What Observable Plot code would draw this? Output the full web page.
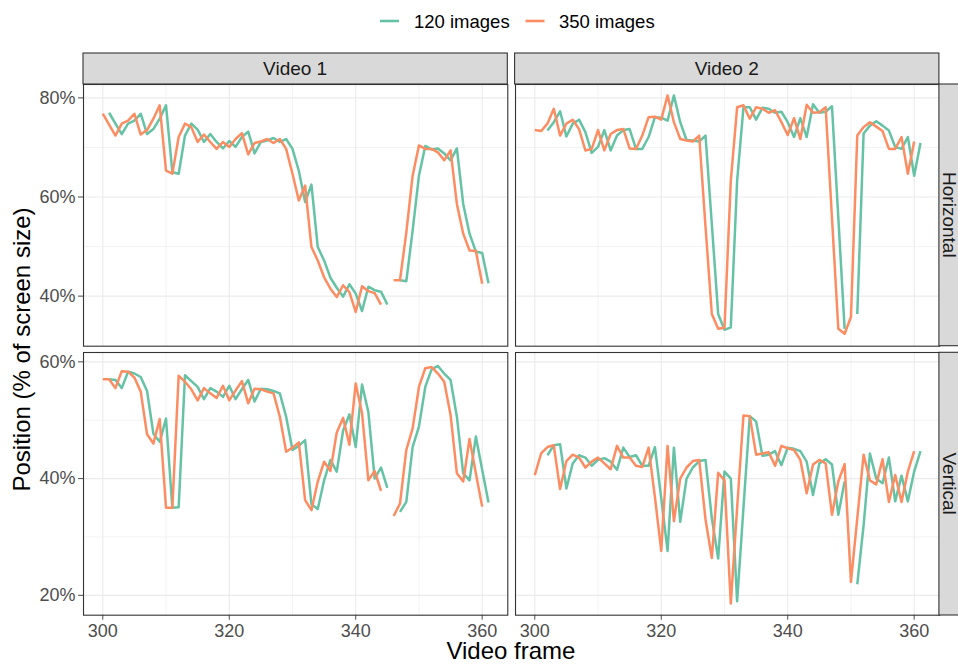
<!DOCTYPE html>
<html>
<head>
<meta charset="utf-8">
<script src="https://cdn.jsdelivr.net/npm/d3@7"></script>
<script src="https://cdn.jsdelivr.net/npm/@observablehq/plot@0.6"></script>
<style>
  body { margin: 0; background: #fff; }
  #fig { position: relative; width: 958px; height: 664px; overflow: hidden; background: #fff;
         font-family: "Liberation Sans", Arial, Helvetica, sans-serif; }
  #fig > svg { position: absolute; }
</style>
</head>
<body>
<div id="fig"></div>
<script>
// Tracked position per video frame, in % of screen size (null = frame not tracked)
const firstFrame = 300;
const videos = ["Video 1", "Video 2"];
const directions = ["Horizontal", "Vertical"];
const series = ["120 images", "350 images"];
const seriesColors = ["#66c2a5", "#fc8d62"];
const xTicks = [300, 320, 340, 360];
const xMinor = [310, 330, 350];
const yTicksHorizontal = [40, 60, 80];
const yMinorHorizontal = [50, 70];
const yTicksVertical = [20, 40, 60];
const yMinorVertical = [30, 50];

const video1Horizontal120 = [
  null, 77.0, 74.8, 72.7, 74.8, 75.4, 76.8, 72.7, 73.7, 75.8,
  78.5, 65.0, 64.7, 72.4, 74.8, 73.6, 71.1, 72.7, 71.1, 69.8,
  71.3, 70.1, 72.1, 73.2, 68.8, 71.1, 71.4, 71.9, 71.1, 71.7,
  69.7, 65.3, 59.0, 62.5, 49.9, 47.2, 43.7, 41.7, 39.9, 42.4,
  40.5, 37.0, 41.9, 41.2, 40.9, 38.3, null, 43.2, 43.0, 53.2,
  64.3, 70.3, 69.6, 69.8, 68.8, 67.4, 69.8, 58.6, 52.6, 49.0,
  48.7, 42.6
];
const video1Horizontal350 = [
  76.8, 74.6, 72.4, 74.8, 75.4, 76.8, 72.6, 73.5, 75.8, 78.5,
  65.3, 64.7, 72.1, 74.8, 74.1, 71.1, 72.6, 71.1, 69.7, 71.1,
  70.1, 71.7, 72.9, 68.6, 70.9, 71.2, 71.7, 70.9, 71.7, 69.7,
  64.7, 59.3, 62.3, 49.9, 47.2, 43.8, 41.5, 39.8, 42.2, 40.8,
  36.8, 42.0, 41.0, 40.6, 38.3, null, 43.2, 43.2, 52.8, 64.3,
  70.4, 69.7, 69.7, 69.0, 67.4, 69.4, 58.6, 52.6, 49.2, 49.1,
  42.5, null
];
const video2Horizontal120 = [
  null, null, 73.4, 75.1, 77.3, 72.2, 74.8, 75.6, 73.1, 68.9,
  70.1, 73.5, 69.4, 72.4, 73.5, 73.7, 69.7, 69.7, 72.1, 76.1,
  76.0, 75.4, 80.5, 75.1, 71.5, 71.4, 71.2, 72.4, 54.5, 36.4,
  33.2, 33.7, 63.3, 78.1, 78.1, 75.6, 78.0, 77.8, 77.0, 77.2,
  75.1, 72.1, 75.9, 72.1, 78.7, 77.0, 77.2, 78.3, 55.9, 33.4,
  null, 36.4, 72.8, 74.4, 75.3, 74.4, 73.4, 70.1, 69.7, 72.1,
  64.3, 70.9
];
const video2Horizontal350 = [
  73.5, 73.3, 74.8, 77.8, 72.4, 74.8, 75.6, 73.7, 69.4, 69.7,
  73.5, 69.4, 72.7, 73.5, 73.7, 69.8, 69.7, 72.4, 76.1, 76.2,
  75.6, 80.5, 75.1, 71.7, 71.4, 71.2, 72.4, 54.0, 36.4, 33.4,
  33.6, 63.3, 78.1, 78.5, 75.8, 78.1, 77.8, 77.0, 77.5, 75.1,
  72.5, 75.9, 71.7, 78.6, 77.0, 77.1, 78.1, 55.8, 33.4, 32.4,
  35.8, 72.4, 74.1, 75.1, 74.2, 73.3, 69.7, 69.7, 72.1, 64.7,
  71.2, null
];
const video1Vertical120 = [
  null, 57.0, 56.9, 55.5, 58.3, 58.0, 57.4, 55.0, 47.7, 46.3,
  50.3, 35.0, 35.1, 57.7, 56.7, 55.7, 53.6, 55.5, 54.9, 54.0,
  55.9, 53.6, 55.3, 56.9, 53.2, 55.4, 55.3, 55.0, 54.6, 50.6,
  44.9, 45.6, 46.6, 35.6, 34.8, 39.7, 43.2, 41.2, 48.2, 51.0,
  45.4, 56.1, 51.4, 40.0, 41.9, 38.4, null, 34.3, 36.0, 45.4,
  48.9, 55.7, 58.7, 59.3, 58.0, 56.9, 50.6, 40.9, 39.7, 47.2,
  41.5, 35.9
];
const video1Vertical350 = [
  57.0, 57.0, 55.5, 58.4, 58.3, 57.3, 54.9, 47.6, 46.0, 50.2,
  35.0, 35.0, 57.6, 56.6, 55.3, 53.4, 55.5, 54.6, 53.8, 55.9,
  53.4, 55.1, 56.7, 52.9, 55.4, 55.3, 54.9, 54.6, 50.6, 44.6,
  45.3, 46.2, 36.3, 34.6, 39.5, 42.9, 41.3, 47.9, 50.4, 45.8,
  56.3, 51.2, 39.7, 41.3, 37.9, null, 33.6, 35.7, 44.9, 48.6,
  55.7, 58.9, 59.1, 58.0, 56.6, 50.9, 40.9, 39.5, 46.8, 40.9,
  35.2, null
];
const video2Vertical120 = [
  null, null, 44.0, 45.7, 45.9, 38.3, 42.6, 44.0, 43.6, 42.2,
  43.2, 43.5, 42.9, 41.5, 45.3, 43.7, 44.0, 42.2, 42.2, 45.4,
  36.6, 27.6, 45.3, 32.6, 40.0, 41.9, 43.0, 43.2, 33.2, 26.3,
  41.2, 40.0, 19.0, 35.0, 50.7, 49.8, 43.9, 44.1, 44.7, 42.3,
  45.3, 45.1, 44.7, 42.9, 37.2, 42.6, 43.3, 42.4, 33.8, 39.5,
  null, 21.9, 32.0, 44.3, 40.0, 39.2, 43.6, 36.1, 40.5, 36.1,
  41.2, 44.7
];
const video2Vertical350 = [
  40.6, 44.3, 45.4, 45.7, 38.2, 43.0, 44.1, 43.6, 41.9, 42.9,
  43.6, 42.6, 41.6, 45.6, 43.6, 43.6, 42.2, 42.0, 45.3, 36.8,
  27.6, 45.6, 32.7, 40.0, 41.9, 43.0, 43.2, 33.0, 26.4, 41.0,
  39.7, 18.6, 35.0, 50.8, 50.7, 44.1, 44.3, 44.5, 42.2, 45.6,
  45.2, 44.9, 43.2, 37.5, 42.4, 43.2, 42.6, 33.8, 39.5, 42.5,
  22.3, 33.2, 44.1, 39.7, 39.0, 43.3, 36.0, 40.6, 36.0, 41.2,
  44.7, null
];

// panel -> one series array per sample size
const panelSeries = {
  "Video 1|Horizontal": [video1Horizontal120, video1Horizontal350],
  "Video 2|Horizontal": [video2Horizontal120, video2Horizontal350],
  "Video 1|Vertical":   [video1Vertical120,   video1Vertical350],
  "Video 2|Vertical":   [video2Vertical120,   video2Vertical350]
};

// ---- layout (pixels) ----
const FONT = '"Liberation Sans", Arial, Helvetica, sans-serif';
const colLeft = [83, 514.6];
const panelWidth = 424.3;
const rowTop = [84, 352.3];
const panelHeight = [261.7, 262.7];
const stripTop = 53;
const stripRight = 938.9;
const xDomain = [296.95, 364.05];
const yDomains = [[29.9, 82.7], [16.6, 61.6]];
const yTicks = [yTicksHorizontal, yTicksVertical];
const yMinor = [yMinorHorizontal, yMinorVertical];

const fig = document.getElementById("fig");

function rowsFor(video, direction) {
  const out = [];
  panelSeries[`${video}|${direction}`].forEach((values, s) => {
    values.forEach((v, i) => {
      out.push({frame: firstFrame + i, value: v == null ? NaN : v, series: series[s]});
    });
  });
  return out;
}

directions.forEach((direction, row) => {
  videos.forEach((video, col) => {
    const mL = col === 0 ? 83 : 3, mR = 3, mT = 3, mB = row === 1 ? 49 : 3;
    const width = mL + panelWidth + mR;
    const height = mT + panelHeight[row] + mB;
    const chart = Plot.plot({
      width, height,
      marginLeft: mL, marginRight: mR, marginTop: mT, marginBottom: mB,
      style: {fontFamily: FONT, fontSize: "18px", color: "#4d4d4d", background: "transparent", overflow: "visible"},
      x: {
        domain: xDomain,
        axis: row === 1 ? "bottom" : null,
        ticks: xTicks, tickSize: 5, tickPadding: 4, tickFormat: d => String(d), label: null
      },
      y: {
        domain: yDomains[row],
        axis: col === 0 ? "left" : null,
        ticks: yTicks[row], tickSize: 5, tickPadding: 3, tickFormat: d => d + "%", label: null
      },
      color: {domain: series, range: seriesColors},
      marks: [
        Plot.ruleX(xMinor, {stroke: "#ebebeb", strokeWidth: 0.6}),
        Plot.ruleY(yMinor[row], {stroke: "#ebebeb", strokeWidth: 0.6}),
        Plot.ruleX(xTicks, {stroke: "#ebebeb", strokeWidth: 1.1}),
        Plot.ruleY(yTicks[row], {stroke: "#ebebeb", strokeWidth: 1.1}),
        Plot.line(rowsFor(video, direction), {
          x: "frame", y: "value", stroke: "series", z: "series",
          strokeWidth: 2.5, strokeLinejoin: "round", strokeLinecap: "butt"
        }),
        Plot.frame({stroke: "#333333", strokeWidth: 1.1})
      ]
    });
    chart.style.left = (colLeft[col] - mL) + "px";
    chart.style.top = (rowTop[row] - mT) + "px";
    fig.appendChild(chart);
  });
});

// ---- strips, legend and axis titles ----
const svg = d3.select(fig).append("svg")
  .attr("width", 958).attr("height", 664)
  .style("left", "0px").style("top", "0px")
  .style("font-family", FONT);

videos.forEach((video, col) => {
  svg.append("rect")
    .attr("x", colLeft[col]).attr("y", stripTop)
    .attr("width", panelWidth).attr("height", rowTop[0] - stripTop)
    .attr("fill", "#d9d9d9").attr("stroke", "#333333").attr("stroke-width", 1.1);
  svg.append("text")
    .attr("x", colLeft[col] + panelWidth / 2).attr("y", (stripTop + rowTop[0]) / 2)
    .attr("dy", "0.36em")
    .attr("text-anchor", "middle").attr("font-size", 19).attr("fill", "#1a1a1a")
    .text(video);
});

directions.forEach((direction, row) => {
  svg.append("rect")
    .attr("x", stripRight).attr("y", rowTop[row])
    .attr("width", 30).attr("height", panelHeight[row])
    .attr("fill", "#d9d9d9").attr("stroke", "#333333").attr("stroke-width", 1.1);
  svg.append("text")
    .attr("transform", `translate(${stripRight + 11},${rowTop[row] + panelHeight[row] / 2}) rotate(90)`)
    .attr("dy", "0.36em")
    .attr("text-anchor", "middle").attr("font-size", 19).attr("fill", "#1a1a1a")
    .text(direction);
});

// legend
const legendKeys = [380, 525.5];
const legendTexts = [414, 559];
series.forEach((name, i) => {
  svg.append("line")
    .attr("x1", legendKeys[i]).attr("x2", legendKeys[i] + 19)
    .attr("y1", 21).attr("y2", 21)
    .attr("stroke", seriesColors[i]).attr("stroke-width", 2.6);
  svg.append("text")
    .attr("x", legendTexts[i]).attr("y", 21).attr("dy", "0.36em")
    .attr("font-size", 18.5).attr("fill", "#000")
    .text(name);
});

// axis titles
svg.append("text")
  .attr("x", (colLeft[0] + stripRight) / 2).attr("y", 658.5)
  .attr("text-anchor", "middle").attr("font-size", 24).attr("fill", "#000")
  .text("Video frame");
svg.append("text")
  .attr("transform", `translate(30,${(rowTop[0] + rowTop[1] + panelHeight[1]) / 2}) rotate(-90)`)
  .attr("text-anchor", "middle").attr("font-size", 24).attr("fill", "#000")
  .text("Position (% of screen size)");
</script>
</body>
</html>
